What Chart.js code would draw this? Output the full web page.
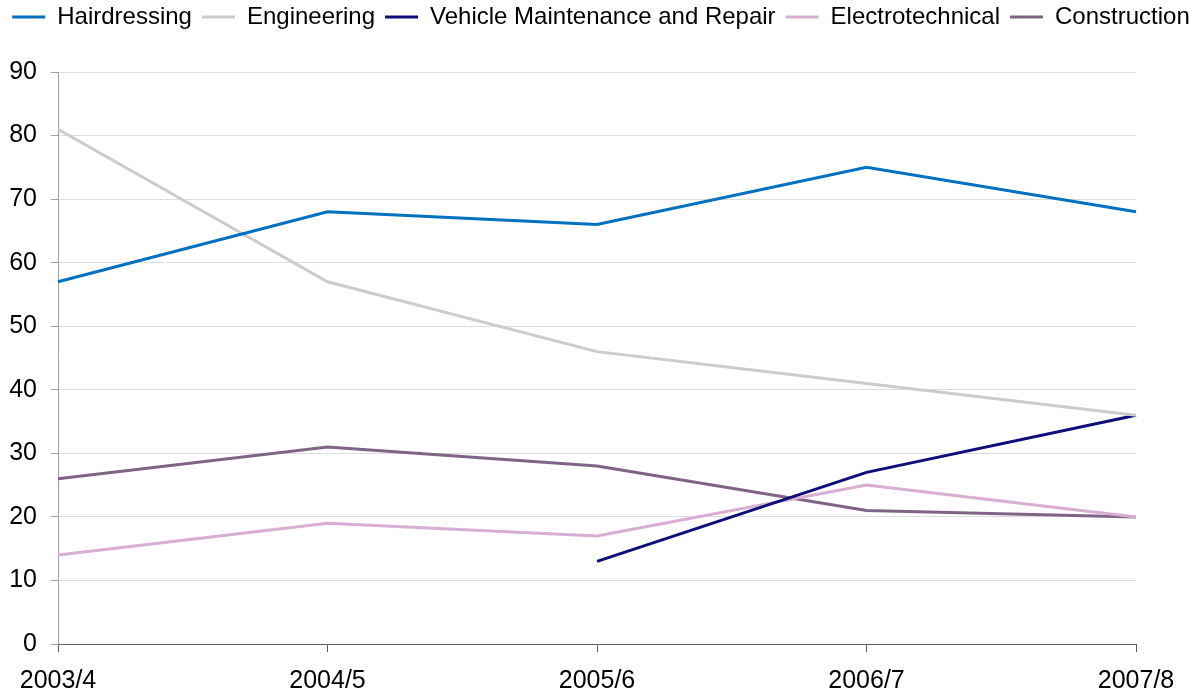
<!DOCTYPE html>
<html>
<head>
<meta charset="utf-8">
<script src="https://cdn.jsdelivr.net/npm/chart.js@4"></script>
<style>
html,body{margin:0;padding:0;background:#fff;}
#wrap{width:1202px;height:700px;}
</style>
</head>
<body>
<div id="wrap"><canvas id="c" width="1202" height="700"></canvas></div>
<script>
const categories = ['2003/4', '2004/5', '2005/6', '2006/7', '2007/8'];
const hairdressing = [57, 68, 66, 75, 68];
const engineering = [81, 57, 46, 41, 36];
const vehicle = [null, null, 13, 27, 36];
const electrotechnical = [14, 19, 17, 25, 20];
const construction = [26, 31, 28, 21, 20];
const yTicks = [0, 10, 20, 30, 40, 50, 60, 70, 80, 90];

const FONT = 'Liberation Sans, Arial, sans-serif';

const legendGap = {
  id: 'legendGap',
  beforeInit(chart) {
    const orig = chart.legend.fit;
    chart.legend.fit = function () {
      orig.bind(chart.legend)();
      this.height += 33;
    };
  }
};

function ds(label, data, color) {
  return {
    label, data,
    borderColor: color,
    backgroundColor: color,
    borderWidth: 3,
    pointRadius: 0,
    pointHoverRadius: 0,
    tension: 0,
    fill: false,
    spanGaps: false
  };
}

new Chart(document.getElementById('c'), {
  type: 'line',
  data: {
    labels: categories,
    datasets: [
      ds('Hairdressing', hairdressing, '#0070c0'),
      ds('Engineering', engineering, '#cccccc'),
      ds('Vehicle Maintenance and Repair', vehicle, '#0e0e7a'),
      ds('Electrotechnical', electrotechnical, '#d9aed4'),
      ds('Construction', construction, '#806485')
    ]
  },
  options: {
    responsive: false,
    animation: false,
    devicePixelRatio: 1,
    layout: { padding: { top: -5, left: 0, right: 0, bottom: 0 } },
    plugins: {
      legend: {
        position: 'top',
        align: 'center',
        labels: {
          boxWidth: 33,
          boxHeight: 3,
          padding: 10,
          color: '#000',
          font: { family: FONT, size: 24 },
          generateLabels(chart) {
            const items = Chart.defaults.plugins.legend.labels.generateLabels(chart);
            items.forEach(it => { it.lineWidth = 0; it.fillStyle = it.strokeStyle; });
            return items;
          }
        }
      },
      tooltip: { enabled: false }
    },
    scales: {
      x: {
        offset: false,
        grid: {
          display: true,
          drawOnChartArea: false,
          drawTicks: true,
          tickLength: 8,
          color: '#606060',
          tickColor: '#606060'
        },
        border: { display: true, color: '#606060', width: 1 },
        ticks: {
          color: '#000',
          font: { family: FONT, size: 25 },
          padding: 14,
          maxRotation: 0,
          autoSkip: false
        },
        afterFit(scale) {
          scale.height = 56;
          scale.paddingRight = 66;
        }
      },
      y: {
        min: 0,
        max: 90,
        afterBuildTicks(scale) {
          scale.ticks = yTicks.map(v => ({ value: v }));
        },
        grid: {
          color: '#dddddd',
          tickColor: '#a0a0a0',
          tickLength: 7,
          drawTicks: true
        },
        border: { display: true, color: '#a0a0a0', width: 1 },
        ticks: {
          color: '#000',
          font: { family: FONT, size: 25 },
          padding: 14
        },
        afterFit(scale) {
          scale.width = 58;
        }
      }
    }
  },
  plugins: [legendGap]
});
</script>
</body>
</html>
